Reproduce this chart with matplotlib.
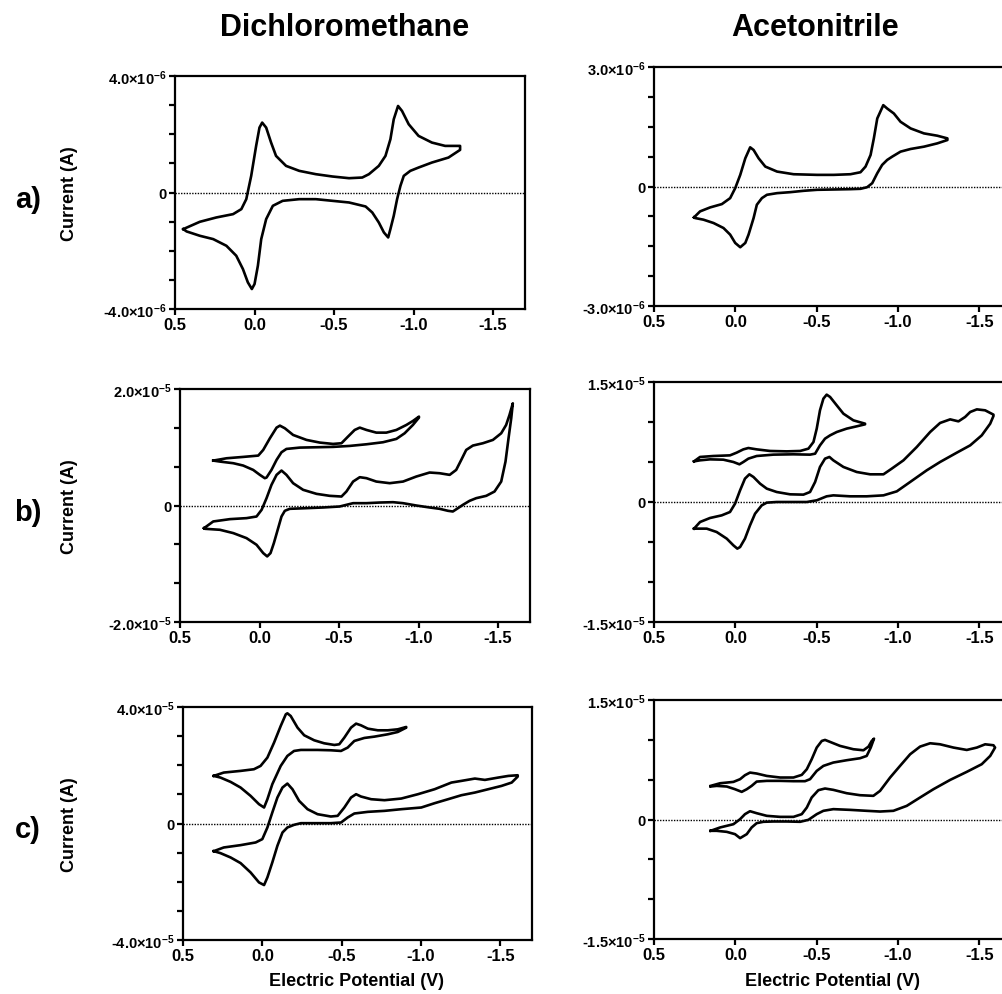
import matplotlib
matplotlib.use("Agg")
import matplotlib.pyplot as plt
import numpy as np
from matplotlib.ticker import FixedLocator, FuncFormatter

plt.rcParams["font.family"] = ["Liberation Sans", "DejaVu Sans"]
plt.rcParams["font.weight"] = "bold"
plt.rcParams["mathtext.fontset"] = "custom"
plt.rcParams["mathtext.rm"] = "Liberation Sans:bold"
plt.rcParams["mathtext.bf"] = "Liberation Sans:bold"

# potentials in V, currents in microamps
# a) dichloromethane
A_DCM_E = [0.448, 0.344, 0.240, 0.135, 0.083, 0.052, 0.021, -0.010, -0.031, -0.048, -0.073, -0.104, -0.135,
           -0.198, -0.281, -0.385, -0.490, -0.594, -0.677, -0.719, -0.781, -0.823, -0.854, -0.875, -0.902,
           -0.927, -0.969, -1.031, -1.115, -1.198, -1.292,
           -1.292, -1.219, -1.115, -1.031, -0.979, -0.938, -0.917, -0.896, -0.875, -0.854, -0.840, -0.813,
           -0.781, -0.740, -0.698, -0.594, -0.490, -0.385, -0.281, -0.177, -0.115, -0.073, -0.042, -0.021,
           0.0, 0.017, 0.042, 0.073, 0.115, 0.177, 0.260, 0.344, 0.427, 0.448]
A_DCM_I = [-1.257, -1.006, -0.857, -0.743, -0.571, -0.229, 0.571, 1.60, 2.229, 2.40, 2.229, 1.714, 1.257,
           0.914, 0.743, 0.629, 0.549, 0.491, 0.514, 0.629, 0.914, 1.257, 1.829, 2.514, 2.971,
           2.80, 2.343, 1.943, 1.714, 1.60, 1.60,
           1.463, 1.20, 1.029, 0.857, 0.743, 0.571, 0.229, -0.229, -0.80, -1.257, -1.543, -1.371,
           -1.029, -0.686, -0.48, -0.343, -0.286, -0.229, -0.229, -0.286, -0.457, -0.914, -1.60, -2.514,
           -3.143, -3.314, -3.086, -2.629, -2.171, -1.829, -1.60, -1.486, -1.337, -1.257]

# a) acetonitrile
A_MECN_E = [0.254, 0.217, 0.155, 0.083, 0.032, 0.001, -0.030, -0.061, -0.091, -0.112, -0.143, -0.184, -0.256,
            -0.358, -0.502, -0.605, -0.707, -0.769, -0.800, -0.831, -0.851, -0.872, -0.909, -0.933, -0.974,
            -1.015, -1.077, -1.159, -1.241, -1.303,
            -1.303, -1.241, -1.159, -1.077, -1.015, -0.964, -0.933, -0.902, -0.872, -0.841, -0.810, -0.769,
            -0.707, -0.605, -0.502, -0.420, -0.338, -0.256, -0.194, -0.163, -0.132, -0.112, -0.081, -0.061,
            -0.030, 0.001, 0.032, 0.073, 0.134, 0.196, 0.247, 0.254]
A_MECN_I = [-0.775, -0.625, -0.525, -0.442, -0.292, -0.042, 0.292, 0.708, 0.983, 0.917, 0.708, 0.50, 0.375,
            0.308, 0.292, 0.292, 0.308, 0.358, 0.50, 0.792, 1.208, 1.708, 2.042, 1.958, 1.833,
            1.625, 1.458, 1.333, 1.275, 1.208,
            1.167, 1.083, 1.0, 0.942, 0.875, 0.75, 0.667, 0.542, 0.333, 0.083, -0.017, -0.058,
            -0.067, -0.075, -0.083, -0.108, -0.142, -0.167, -0.208, -0.292, -0.458, -0.792, -1.208, -1.417,
            -1.525, -1.417, -1.208, -1.042, -0.917, -0.833, -0.792, -0.775]

# b) dichloromethane, short scan and full scan
B_DCM1_E = [0.291, 0.207, 0.103, 0.008, -0.023, -0.065, -0.107, -0.128, -0.159, -0.211, -0.295, -0.379, -0.462,
            -0.515, -0.556, -0.598, -0.630, -0.672, -0.734, -0.797, -0.860, -0.923, -0.964, -1.002,
            -1.002, -0.964, -0.912, -0.860, -0.776, -0.672, -0.567, -0.462, -0.358, -0.253, -0.169, -0.138,
            -0.107, -0.075, -0.044, -0.033, -0.002, 0.040, 0.103, 0.165, 0.249, 0.291]
B_DCM1_I = [7.71, 8.11, 8.34, 8.57, 9.54, 11.54, 13.37, 13.71, 13.26, 12.11, 11.26, 10.80, 10.57,
            10.69, 11.83, 12.97, 13.37, 12.97, 12.51, 12.51, 12.97, 13.83, 14.51, 15.26,
            15.09, 13.83, 12.40, 11.43, 10.86, 10.51, 10.23, 10.06, 10.0, 9.94, 9.71, 9.14,
            7.83, 6.11, 4.80, 4.69, 5.26, 6.11, 6.86, 7.26, 7.54, 7.71]
B_DCM2_E = [0.349, 0.291, 0.186, 0.082, 0.019, -0.013, -0.044, -0.075, -0.107, -0.138, -0.169, -0.211, -0.274,
            -0.358, -0.441, -0.515, -0.546, -0.588, -0.630, -0.672, -0.734, -0.818, -0.902, -0.985, -1.069,
            -1.132, -1.195, -1.236, -1.268, -1.299, -1.341, -1.404, -1.467, -1.519, -1.550, -1.571, -1.592,
            -1.582, -1.565, -1.546, -1.519, -1.477, -1.425, -1.362, -1.320, -1.278, -1.247, -1.215, -1.184,
            -1.132, -1.069, -0.985, -0.902, -0.839, -0.755, -0.672, -0.588, -0.504, -0.400, -0.295, -0.190,
            -0.159, -0.138, -0.117, -0.090, -0.069, -0.048, -0.023, 0.019, 0.082, 0.165, 0.249, 0.343, 0.349]
B_DCM2_I = [-3.89, -2.74, -2.34, -2.17, -1.89, -0.74, 1.26, 3.54, 5.26, 6.0, 5.26, 3.83, 2.69,
            2.0, 1.66, 1.54, 2.40, 4.11, 4.86, 4.69, 4.11, 3.83, 4.11, 4.97, 5.66,
            5.54, 5.26, 6.11, 7.83, 9.54, 10.29, 10.69, 11.26, 12.40, 13.83, 15.54, 17.54,
            14.97, 11.54, 7.54, 4.11, 2.40, 1.66, 1.26, 0.80, 0.11, -0.46, -1.03, -0.91,
            -0.57, -0.34, 0.0, 0.40, 0.57, 0.51, 0.40, 0.40, -0.17, -0.34, -0.46, -0.57,
            -0.91, -1.89, -3.89, -6.46, -8.17, -8.74, -8.17, -6.74, -5.60, -4.74, -4.17, -4.0, -3.89]

# b) acetonitrile
B_MECN1_E = [0.254, 0.217, 0.135, 0.033, -0.008, -0.049, -0.080, -0.131, -0.213, -0.316, -0.398, -0.449, -0.480,
             -0.500, -0.520, -0.541, -0.561, -0.582, -0.623, -0.664, -0.725, -0.797,
             -0.797, -0.746, -0.684, -0.623, -0.582, -0.551, -0.520, -0.490, -0.459, -0.357, -0.234, -0.131,
             -0.080, -0.049, -0.025, 0.012, 0.074, 0.156, 0.217, 0.254]
B_MECN1_I = [5.08, 5.63, 5.75, 5.83, 6.17, 6.58, 6.75, 6.58, 6.38, 6.33, 6.38, 6.67, 7.50,
             9.17, 11.46, 12.92, 13.42, 13.13, 12.08, 11.04, 10.21, 9.79,
             9.71, 9.46, 9.17, 8.75, 8.33, 7.92, 7.08, 6.04, 5.92, 5.96, 5.92, 5.75,
             5.42, 5.0, 4.71, 5.0, 5.29, 5.33, 5.21, 5.08]
B_MECN2_E = [0.254, 0.217, 0.156, 0.084, 0.033, 0.002, -0.029, -0.059, -0.086, -0.111, -0.152, -0.193, -0.254,
             -0.336, -0.418, -0.459, -0.490, -0.520, -0.551, -0.578, -0.602, -0.664, -0.746, -0.828, -0.910,
             -0.961, -1.033, -1.115, -1.197, -1.258, -1.320, -1.371, -1.412, -1.443, -1.484, -1.535, -1.586,
             -1.586, -1.566, -1.514, -1.443, -1.361, -1.258, -1.176, -1.074, -0.992, -0.910, -0.807, -0.705,
             -0.602, -0.561, -0.500, -0.439, -0.357, -0.254, -0.193, -0.162, -0.121, -0.090, -0.059, -0.029,
             -0.012, 0.012, 0.053, 0.115, 0.176, 0.238, 0.254]
B_MECN2_I = [-3.33, -2.50, -2.0, -1.67, -1.25, -0.21, 1.46, 2.92, 3.46, 3.13, 2.29, 1.67, 1.25,
             0.96, 0.92, 1.25, 2.50, 4.38, 5.42, 5.63, 5.21, 4.38, 3.75, 3.46, 3.46,
             4.17, 5.21, 6.88, 8.75, 9.88, 10.33, 10.08, 10.63, 11.25, 11.58, 11.46, 10.92,
             10.75, 9.79, 8.33, 7.08, 6.17, 5.0, 3.96, 2.50, 1.33, 0.83, 0.71, 0.71,
             0.83, 0.71, 0.21, 0.0, 0.0, 0.0, -0.08, -0.42, -1.46, -2.92, -4.58, -5.63,
             -5.83, -5.42, -4.58, -3.75, -3.33, -3.33, -3.33]

# c) dichloromethane
C_DCM1_E = [0.306, 0.243, 0.137, 0.053, 0.011, -0.032, -0.074, -0.116, -0.148, -0.158, -0.179, -0.222, -0.264,
            -0.327, -0.390, -0.454, -0.485, -0.517, -0.559, -0.591, -0.622, -0.665, -0.728, -0.791, -0.854,
            -0.907,
            -0.907, -0.854, -0.791, -0.707, -0.643, -0.580, -0.538, -0.496, -0.432, -0.348, -0.243, -0.200,
            -0.158, -0.116, -0.063, -0.032, -0.011, 0.021, 0.074, 0.137, 0.200, 0.264, 0.306]
C_DCM1_I = [16.34, 17.49, 18.06, 18.63, 19.77, 22.63, 27.77, 33.49, 37.49, 37.83, 36.91, 32.91, 30.29,
            28.57, 27.54, 26.97, 27.20, 29.49, 32.91, 34.29, 33.71, 32.57, 32.0, 32.0, 32.34,
            33.14,
            32.91, 31.43, 30.63, 29.83, 29.37, 28.34, 26.06, 24.91, 25.14, 25.26, 25.26, 24.91,
            23.20, 19.77, 13.49, 8.34, 5.49, 6.63, 9.49, 12.34, 14.29, 15.77, 16.34]
C_DCM2_E = [0.306, 0.243, 0.137, 0.042, 0.0, -0.032, -0.063, -0.095, -0.127, -0.158, -0.190, -0.232, -0.285,
            -0.348, -0.432, -0.475, -0.517, -0.559, -0.591, -0.622, -0.686, -0.770, -0.876, -0.981, -1.086,
            -1.192, -1.255, -1.340, -1.403, -1.487, -1.551, -1.610,
            -1.610, -1.572, -1.508, -1.424, -1.340, -1.255, -1.171, -1.086, -1.002, -0.876, -0.770, -0.665,
            -0.580, -0.538, -0.496, -0.432, -0.348, -0.243, -0.200, -0.158, -0.127, -0.095, -0.063, -0.032,
            -0.011, 0.021, 0.074, 0.137, 0.200, 0.264, 0.306]
C_DCM2_I = [-9.49, -8.23, -7.43, -6.51, -5.37, -1.37, 3.77, 8.91, 12.34, 13.71, 11.77, 7.77, 4.91,
            3.20, 2.40, 2.63, 5.49, 8.91, 10.06, 9.26, 8.34, 8.0, 8.57, 10.06, 11.77,
            14.06, 14.63, 15.43, 14.97, 15.77, 16.34, 16.57,
            16.11, 14.06, 12.91, 11.77, 10.63, 9.71, 8.34, 6.97, 5.49, 4.91, 4.34, 4.0,
            3.43, 2.06, 0.34, 0.11, 0.11, 0.11, -0.46, -1.37, -3.09, -7.66, -13.37, -18.51,
            -21.14, -20.23, -16.80, -13.60, -11.66, -10.17, -9.49]

# c) acetonitrile
C_MECN1_E = [0.152, 0.094, 0.012, -0.029, -0.059, -0.090, -0.131, -0.193, -0.275, -0.357, -0.408, -0.439, -0.469,
             -0.500, -0.531, -0.551, -0.582, -0.643, -0.725, -0.787, -0.818, -0.838, -0.852,
             -0.832, -0.807, -0.766, -0.684, -0.602, -0.541, -0.500, -0.459, -0.428, -0.357, -0.275, -0.193,
             -0.131, -0.100, -0.070, -0.039, 0.002, 0.053, 0.115, 0.152]
C_MECN1_I = [4.22, 4.55, 4.72, 5.06, 5.56, 5.89, 5.77, 5.47, 5.27, 5.27, 5.60, 6.31, 7.56,
             9.03, 9.86, 9.99, 9.74, 9.24, 8.82, 8.69, 9.15, 9.86, 10.15,
             9.03, 7.98, 7.69, 7.44, 7.15, 6.73, 6.10, 5.06, 4.81, 4.81, 4.85, 4.85,
             4.76, 4.22, 3.80, 3.47, 3.80, 4.14, 4.22, 4.14]
C_MECN2_E = [0.152, 0.094, 0.012, -0.029, -0.059, -0.090, -0.131, -0.193, -0.275, -0.357, -0.408, -0.439, -0.469,
             -0.510, -0.551, -0.602, -0.684, -0.766, -0.848, -0.889, -0.951, -1.012, -1.074, -1.135, -1.197,
             -1.258, -1.340, -1.422, -1.484, -1.535, -1.586,
             -1.596, -1.566, -1.514, -1.422, -1.320, -1.217, -1.135, -1.053, -0.971, -0.889, -0.807, -0.705,
             -0.602, -0.541, -0.500, -0.449, -0.398, -0.316, -0.234, -0.172, -0.131, -0.100, -0.070, -0.029,
             0.002, 0.053, 0.115, 0.152]
C_MECN2_I = [-1.42, -1.0, -0.59, 0.04, 0.67, 1.04, 0.79, 0.46, 0.33, 0.33, 0.67, 1.50, 2.76,
             3.68, 3.89, 3.72, 3.30, 3.05, 2.97, 3.59, 5.27, 6.73, 8.19, 9.15, 9.57,
             9.44, 9.03, 8.73, 9.03, 9.44, 9.32,
             9.03, 7.98, 6.94, 5.98, 4.97, 3.80, 2.76, 1.71, 1.09, 1.0, 1.09, 1.21,
             1.30, 1.09, 0.67, -0.04, -0.29, -0.25, -0.25, -0.29, -0.46, -1.0, -1.84, -2.34,
             -1.84, -1.55, -1.42, -1.42]

X_TICKS = [0.5, 0.0, -0.5, -1.0, -1.5]
Y_LIMITS = [4.0e-6, 3.0e-6, 2.0e-5, 1.5e-5, 4.0e-5, 1.5e-5]
Y_MINOR_STEPS = [8, 8, 6, 6, 8, 6]

W, H = 1003, 995
# axes boxes in pixels: left, right, top, bottom
BOXES = [(175, 525, 77, 310), (654, 1012, 68, 307),
         (180, 530, 390, 623), (654, 1012, 383, 623),
         (183, 532, 708, 941), (654, 1012, 701, 940)]

PANELS = [
    [(A_DCM_E, A_DCM_I)],
    [(A_MECN_E, A_MECN_I)],
    [(B_DCM1_E, B_DCM1_I), (B_DCM2_E, B_DCM2_I)],
    [(B_MECN1_E, B_MECN1_I), (B_MECN2_E, B_MECN2_I)],
    [(C_DCM1_E, C_DCM1_I), (C_DCM2_E, C_DCM2_I)],
    [(C_MECN1_E, C_MECN1_I), (C_MECN2_E, C_MECN2_I)],
]


def sci_label(v, pos):
    if abs(v) < 1e-12:
        return "0"
    exp = int(np.floor(np.log10(abs(v))))
    mant = v / 10 ** exp
    sign = "-" if mant < 0 else ""
    return r"%s$\mathbf{%.1f{\times}10^{%d}}$" % (sign, abs(mant), exp)


fig = plt.figure(figsize=(W / 100, H / 100), dpi=100)

for i, (curves, lim, nminor, box) in enumerate(zip(PANELS, Y_LIMITS, Y_MINOR_STEPS, BOXES)):
    l, r, t, b = box
    ax = fig.add_axes([l / W, 1 - b / H, (r - l) / W, (b - t) / H])
    for E, I in curves:
        ax.plot(E, np.array(I) * 1e-6, color="black", lw=1.9, solid_joinstyle="round")
    ax.axhline(0, color="black", lw=1.0, ls=(0, (1, 1)))
    ax.set_xlim(0.5, -1.7)
    ax.set_ylim(-lim, lim)
    ax.xaxis.set_major_locator(FixedLocator(X_TICKS))
    ax.xaxis.set_major_formatter(FuncFormatter(lambda v, p: "%.1f" % v if v != 0 else "0.0"))
    ax.yaxis.set_major_locator(FixedLocator([-lim, 0, lim]))
    ax.yaxis.set_minor_locator(FixedLocator(np.linspace(-lim, lim, nminor + 1)))
    ax.yaxis.set_major_formatter(FuncFormatter(sci_label))
    for s in ax.spines.values():
        s.set_linewidth(1.6)
    ax.tick_params(axis="both", which="both", direction="out", width=1.6, length=4)
    ax.tick_params(axis="x", labelsize=12, pad=2)
    ax.tick_params(axis="y", labelsize=10.5, pad=2)
    for lab in ax.get_xticklabels() + ax.get_yticklabels():
        lab.set_fontweight("bold")
    if i % 2 == 0:
        ax.set_ylabel("Current (A)", fontsize=13, fontweight="bold")
        ax.yaxis.set_label_coords((78 - l) / (r - l), 0.5)

fig.text(345 / W, 1 - 28 / H, "Dichloromethane", fontsize=22, fontweight="bold", ha="center", va="center")
fig.text(815 / W, 1 - 28 / H, "Acetonitrile", fontsize=22, fontweight="bold", ha="center", va="center")
for lab, y in zip(["a)", "b)", "c)"], [200, 513, 830]):
    fig.text(28 / W, 1 - y / H, lab, fontsize=21, fontweight="bold", ha="center", va="center")
fig.text(357 / W, 1 - 982 / H, "Electric Potential (V)", fontsize=13, fontweight="bold", ha="center", va="center")
fig.text(833 / W, 1 - 982 / H, "Electric Potential (V)", fontsize=13, fontweight="bold", ha="center", va="center")

fig.savefig("out.png", dpi=100)
